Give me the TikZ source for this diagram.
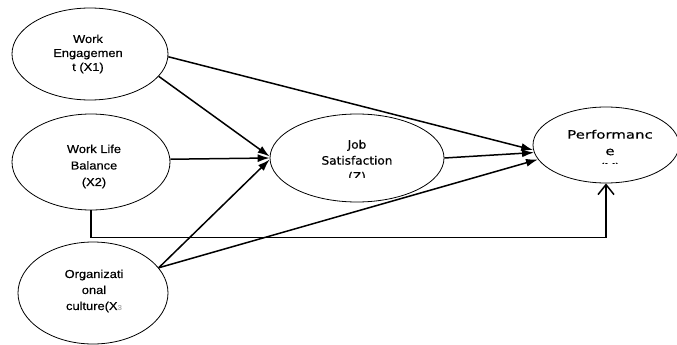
\documentclass[tikz,border=0pt]{standalone}
\usepackage{fontspec}
\setmainfont{Liberation Sans}[FakeStretch=1.12,FakeBold=0.4]
\newfontfamily\jsfont{DejaVu Sans}[FakeStretch=1.05,FakeBold=0.4]
\newfontfamily\pffont{DejaVu Sans}[FakeStretch=1.3,FakeBold=0.4]
\usetikzlibrary{shapes.geometric,arrows.meta}
\begin{document}
\begin{tikzpicture}[x=1pt,y=-1pt,
 ell/.style={draw,ellipse,inner sep=0pt,line width=0.8pt},
 lbl/.style={align=center,inner sep=0pt,font=\fontsize{11.5}{14}\selectfont},
 conn/.style={line width=1.5pt,-{Latex[length=12pt,width=8pt]}},
 barb/.style={line width=1.5pt,-{Straight Barb[length=10pt,width=16pt,line width=1.5pt]}}]
\useasboundingbox (0,0) rectangle (677,345);
% ellipses
\node[ell,minimum width=156pt,minimum height=92pt] (x1) at (90,54) {};
\node[ell,minimum width=158pt,minimum height=96pt] (x2) at (91,162) {};
\node[ell,minimum width=150pt,minimum height=102pt] (x3) at (93,293) {};
\node[ell,minimum width=174pt,minimum height=88pt] (js) at (357,158) {};
\node[ell,minimum width=146pt,minimum height=76pt] (pf) at (606,145) {};
% labels
\node[lbl] (x1t) at (88,54) {Work\\Engagemen\\t (X1)};
\node[lbl,font=\fontsize{11.5}{16.5}\selectfont] (x2t) at (94,166.5) {Work Life\\Balance\\(X2)};
\node[lbl,font=\fontsize{11.5}{16}\selectfont] (x3t) at (94,291) {Organizati\\onal\\culture(X\textcolor{gray!60}{\scriptsize 3}};
\begin{scope}
\clip (280,120) rectangle (440,177);
\node[lbl,font=\jsfont\fontsize{11.5}{16}\selectfont] (jst) at (357,161) {Job\\Satisfaction\\(Z)};
\end{scope}
\begin{scope}
\clip (540,115) rectangle (676,163);
\node[lbl,font=\pffont\fontsize{11.5}{16.5}\selectfont] (pft) at (610,151.5) {Performanc\\e\\(Y)};
\end{scope}
% connectors
\draw[conn] (x1.-2) -- (pf.184);
\draw[conn] (x1.-18) -- (js.179);
\draw[conn] (x2.2) -- (js.180);
\draw[conn] (x3.21) -- (js.181);
\draw[conn] (x3.21) -- (pf.192);
\draw[conn] (js.east) -- (pf.186);
\draw[barb] (x2.south) -- ++(0,27) -| (pf.south);
\end{tikzpicture}
\end{document}
